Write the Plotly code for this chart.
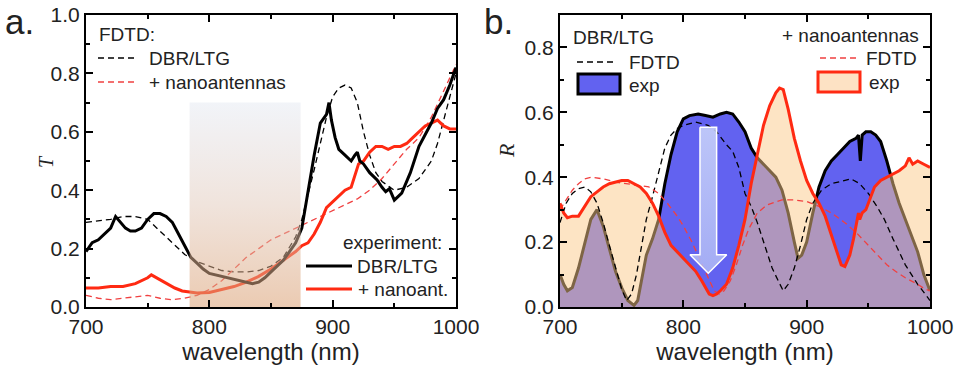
import plotly.graph_objects as go

# ---------------- data: panel a (transmission) ----------------
wl_Ta_exp_dbr = [700,705,710,715,720,724,728,732,736,740,745,750,755,760,765,770,775,780,785,790,795,800,805,810,815,820,825,830,835,840,845,850,855,860,865,870,875,880,885,890,893,895,897,899,902,905,910,915,918,920,922,925,930,936,940,943,946,950,956,963,970,975,980,985,990,995,1000]
Ta_exp_dbr = [0.19,0.22,0.23,0.25,0.27,0.31,0.29,0.27,0.26,0.26,0.27,0.30,0.32,0.32,0.31,0.29,0.25,0.21,0.17,0.15,0.13,0.115,0.11,0.105,0.10,0.095,0.09,0.085,0.08,0.085,0.10,0.12,0.14,0.16,0.19,0.22,0.27,0.40,0.52,0.63,0.65,0.66,0.70,0.64,0.58,0.54,0.52,0.50,0.52,0.53,0.50,0.49,0.46,0.435,0.41,0.395,0.405,0.366,0.39,0.46,0.55,0.59,0.63,0.68,0.71,0.76,0.82]

wl_Ta_exp_nano = [700,710,720,730,740,745,750,753,757,762,767,772,778,785,790,800,810,820,830,840,850,860,870,875,880,885,890,895,900,905,910,915,918,921,925,930,935,940,945,950,955,960,965,970,975,980,985,990,995,1000]
Ta_exp_nano = [0.065,0.065,0.07,0.07,0.08,0.09,0.10,0.11,0.10,0.09,0.075,0.065,0.055,0.05,0.048,0.05,0.06,0.07,0.085,0.105,0.13,0.16,0.19,0.21,0.22,0.25,0.29,0.34,0.36,0.38,0.40,0.41,0.45,0.49,0.50,0.53,0.55,0.55,0.54,0.55,0.55,0.56,0.58,0.60,0.62,0.63,0.64,0.62,0.61,0.61]

wl_Ta_fdtd_dbr = [700,710,720,730,740,750,760,770,780,790,800,810,820,830,840,850,860,870,875,880,885,890,895,900,905,910,915,920,925,930,935,940,950,960,970,980,985,990,995,1000]
Ta_fdtd_dbr = [0.29,0.295,0.30,0.31,0.31,0.30,0.26,0.22,0.18,0.155,0.14,0.125,0.12,0.12,0.125,0.14,0.17,0.24,0.30,0.38,0.47,0.56,0.65,0.72,0.75,0.76,0.75,0.70,0.60,0.52,0.46,0.43,0.40,0.41,0.44,0.50,0.56,0.64,0.72,0.80]

wl_Ta_fdtd_nano = [700,710,720,730,740,750,760,770,780,790,800,810,820,830,840,850,860,870,880,890,900,910,920,930,940,950,960,970,980,990,1000]
Ta_fdtd_nano = [0.04,0.03,0.025,0.03,0.035,0.04,0.03,0.025,0.03,0.04,0.06,0.09,0.13,0.17,0.20,0.23,0.25,0.27,0.29,0.31,0.33,0.35,0.37,0.40,0.44,0.49,0.54,0.58,0.65,0.74,0.83]

band_wl = [784, 874]
band_top = 0.70

# ---------------- data: panel b (reflection) ----------------
wl_Rb_exp_dbr = [700,703,706,710,715,720,725,730,735,740,745,750,755,760,763,766,770,775,780,785,790,795,800,805,812,818,824,830,835,840,845,850,855,860,865,870,875,880,885,890,893,896,900,905,910,915,920,925,930,935,940,942,943.5,945,948,952,956,960,965,970,975,980,985,990,995,1000]
Rb_exp_dbr = [0.10,0.07,0.05,0.06,0.12,0.20,0.27,0.30,0.25,0.18,0.11,0.06,0.02,0.005,0.02,0.08,0.16,0.21,0.27,0.38,0.47,0.54,0.58,0.59,0.595,0.59,0.585,0.595,0.60,0.595,0.57,0.54,0.49,0.46,0.44,0.42,0.40,0.36,0.29,0.20,0.15,0.16,0.20,0.29,0.37,0.42,0.45,0.47,0.49,0.51,0.52,0.53,0.45,0.53,0.54,0.54,0.53,0.51,0.45,0.38,0.32,0.27,0.22,0.17,0.10,0.05]

wl_Rb_exp_nano = [700,703,706,710,715,720,725,730,735,740,745,750,755,760,765,770,775,780,785,790,795,800,805,810,815,818,821,824,827,830,835,840,845,850,855,860,865,870,875,878,881,885,890,895,900,905,910,915,920,925,928,931,935,938,940,942,943,945,948,951,955,960,965,970,975,980,983,986,990,995,1000]
Rb_exp_nano = [0.32,0.29,0.275,0.28,0.28,0.31,0.34,0.355,0.37,0.38,0.385,0.39,0.39,0.38,0.37,0.35,0.32,0.28,0.23,0.19,0.17,0.15,0.13,0.11,0.08,0.06,0.04,0.035,0.04,0.05,0.07,0.12,0.19,0.27,0.38,0.47,0.56,0.62,0.66,0.675,0.67,0.61,0.52,0.45,0.39,0.35,0.32,0.28,0.22,0.16,0.13,0.125,0.16,0.21,0.25,0.29,0.27,0.29,0.30,0.33,0.37,0.39,0.40,0.41,0.42,0.435,0.46,0.44,0.45,0.44,0.43]

wl_Rb_fdtd_dbr = [700,705,710,715,720,725,730,735,740,745,750,754,758,762,766,770,775,780,785,790,795,800,810,815,820,827,835,840,845,850,855,860,866,872,877,881,885,890,895,900,905,912,920,930,936,943,950,957,963,970,975,980,985,990,996,1000]
Rb_fdtd_dbr = [0.26,0.32,0.35,0.365,0.37,0.355,0.32,0.26,0.19,0.12,0.055,0.02,0.04,0.10,0.19,0.27,0.34,0.42,0.49,0.53,0.55,0.56,0.57,0.565,0.56,0.54,0.50,0.48,0.43,0.35,0.31,0.26,0.19,0.12,0.08,0.05,0.07,0.12,0.19,0.27,0.32,0.36,0.38,0.39,0.395,0.38,0.35,0.31,0.27,0.21,0.17,0.13,0.10,0.07,0.04,0.02]

wl_Rb_fdtd_nano = [700,705,710,715,720,725,735,745,755,765,772,780,787,795,800,807,814,820,825,829,833,838,843,848,853,860,868,880,890,900,910,920,931,940,950,958,965,972,980,990,996,1000]
Rb_fdtd_nano = [0.30,0.33,0.36,0.38,0.395,0.40,0.395,0.385,0.38,0.375,0.37,0.35,0.32,0.28,0.25,0.20,0.14,0.09,0.05,0.04,0.05,0.08,0.13,0.19,0.24,0.29,0.315,0.33,0.33,0.325,0.31,0.29,0.26,0.23,0.19,0.16,0.13,0.11,0.09,0.07,0.055,0.05]

# arrow (decoration) in panel b data coordinates
arrow_x = [813.5, 827, 827, 835.2, 820.2, 805.4, 813.5, 813.5]
arrow_y = [0.554, 0.554, 0.161, 0.161, 0.104, 0.161, 0.161, 0.554]

FONT = "Liberation Sans, Arial, sans-serif"
RED = "#ff2a12"
BLUE = "rgb(98,98,240)"
PEACH = "rgba(251,201,137,0.5)"

fig = go.Figure()

# ---- panel a ----
fig.add_trace(go.Scatter(x=wl_Ta_fdtd_dbr, y=Ta_fdtd_dbr, mode="lines", line=dict(color="black", width=1.3, dash="6px,4px"), xaxis="x", yaxis="y"))
fig.add_trace(go.Scatter(x=wl_Ta_fdtd_nano, y=Ta_fdtd_nano, mode="lines", line=dict(color="#f04040", width=1.3, dash="6px,4px"), xaxis="x", yaxis="y"))
fig.add_trace(go.Scatter(x=wl_Ta_exp_nano, y=Ta_exp_nano, mode="lines", line=dict(color=RED, width=3), xaxis="x", yaxis="y"))
fig.add_trace(go.Scatter(x=wl_Ta_exp_dbr, y=Ta_exp_dbr, mode="lines", line=dict(color="black", width=3), xaxis="x", yaxis="y"))
fig.add_trace(go.Scatter(
    x=[band_wl[0], band_wl[1], band_wl[1], band_wl[0], band_wl[0]],
    y=[0, 0, band_top, band_top, 0],
    mode="none", fill="toself",
    fillgradient=dict(type="vertical", start=0, stop=band_top,
                      colorscale=[[0, "rgba(219,160,115,0.55)"], [0.5, "rgba(225,200,185,0.5)"], [1, "rgba(225,230,240,0.45)"]]),
    xaxis="x", yaxis="y"))

# ---- panel b ----
fig.add_trace(go.Scatter(x=wl_Rb_exp_dbr, y=Rb_exp_dbr, mode="lines", fill="tozeroy", fillcolor=BLUE,
                         line=dict(color="black", width=3), xaxis="x2", yaxis="y2"))
fig.add_trace(go.Scatter(x=wl_Rb_exp_nano, y=Rb_exp_nano, mode="none", fill="tozeroy", fillcolor=PEACH,
                         xaxis="x2", yaxis="y2"))
fig.add_trace(go.Scatter(x=wl_Rb_fdtd_dbr, y=Rb_fdtd_dbr, mode="lines", line=dict(color="black", width=1.3, dash="6px,4px"), xaxis="x2", yaxis="y2"))
fig.add_trace(go.Scatter(x=wl_Rb_fdtd_nano, y=Rb_fdtd_nano, mode="lines", line=dict(color="#f04040", width=1.3, dash="6px,4px"), xaxis="x2", yaxis="y2"))
fig.add_trace(go.Scatter(x=wl_Rb_exp_nano, y=Rb_exp_nano, mode="lines", line=dict(color=RED, width=3), xaxis="x2", yaxis="y2"))
fig.add_trace(go.Scatter(x=arrow_x, y=arrow_y, mode="lines", fill="toself", line=dict(color="white", width=1.5),
                         fillgradient=dict(type="vertical", start=0.104, stop=0.554,
                                           colorscale=[[0, "rgba(175,185,245,0.85)"], [1, "rgba(205,215,250,0.85)"]]),
                         xaxis="x2", yaxis="y2"))

W, H = 955, 373
def px(x): return x / W
def py(y): return 1 - y / H

ydom = [py(307), py(15)]
axis_common = dict(showline=True, linecolor="black", linewidth=2, mirror="ticks", ticks="inside",
                   ticklen=7, tickwidth=1.5, tickcolor="black", showgrid=False, zeroline=False,
                   automargin=False, ticklabeloverflow="allow",
                   tickfont=dict(family=FONT, size=21, color="#222"))
xaxis_common = dict(axis_common, range=[700, 1000], dtick=100, tick0=700,
                    minor=dict(dtick=50, ticks="inside", ticklen=4, tickwidth=1.5, tickcolor="black"),
                    title=dict(text="wavelength (nm)", font=dict(family=FONT, size=24, color="#222"), standoff=2))

layout = dict(
    width=W, height=H, margin=dict(l=0, r=0, t=0, b=0),
    paper_bgcolor="white", plot_bgcolor="white", showlegend=False, hovermode=False,
    xaxis=dict(xaxis_common, domain=[px(86), px(456)], anchor="y"),
    yaxis=dict(axis_common, domain=ydom, range=[0, 1.0], dtick=0.2, tickformat=".1f", anchor="x",
               minor=dict(dtick=0.1, ticks="inside", ticklen=4, tickwidth=1.5, tickcolor="black")),
    xaxis2=dict(xaxis_common, domain=[px(560), px(930)], anchor="y2"),
    yaxis2=dict(axis_common, domain=ydom, range=[0, 0.9], dtick=0.2, tickformat=".1f", anchor="x2",
                minor=dict(dtick=0.1, ticks="inside", ticklen=4, tickwidth=1.5, tickcolor="black")),
)
fig.update_layout(**layout)

ann = []
def text(x, y, s, size=19, xanchor="left", family=FONT, angle=0, yanchor="middle"):
    ann.append(dict(x=px(x), y=py(y), xref="paper", yref="paper", text=s, showarrow=False, textangle=angle,
                    xanchor=xanchor, yanchor=yanchor, font=dict(family=family, size=size, color="#222")))

shapes = []
def seg(x0, x1, y, color, width, dash=None):
    shapes.append(dict(type="line", xref="paper", yref="paper", x0=px(x0), x1=px(x1), y0=py(y), y1=py(y),
                       line=dict(color=color, width=width, dash=dash)))
def box(x0, x1, y0, y1, fill, edge):
    shapes.append(dict(type="rect", xref="paper", yref="paper", x0=px(x0), x1=px(x1), y0=py(y1), y1=py(y0),
                       fillcolor=fill, line=dict(color=edge, width=3)))

# panel labels
text(3, 0, "a.", size=35, yanchor="top")
text(482, 0, "b.", size=35, yanchor="top")

# y-axis titles
text(46, 162, "<i>T</i>", size=20, xanchor="center", family="Liberation Serif, serif", angle=-90)
text(506, 151, "<i>R</i>", size=22, xanchor="center", family="Liberation Serif, serif", angle=-90)

# panel a legends
text(97, 34, "FDTD:")
seg(98, 136, 58, "black", 1.3, "6px,4px"); text(147, 58, "DBR/LTG")
seg(98, 136, 82, "#f04040", 1.3, "6px,4px"); text(147, 82, "+ nanoantennas")
text(444, 242, "experiment:", xanchor="right")
seg(306, 352, 266, "black", 3); text(355, 266, "DBR/LTG")
seg(306, 352, 289, RED, 3); text(356, 289, "+ nanoant.")

# panel b legends
text(571, 38, "DBR/LTG")
seg(577, 617, 62, "black", 1.3, "6px,4px"); text(627, 62, "FDTD")
box(578, 620, 74, 94, BLUE, "black"); text(627, 85, "exp")
text(921, 36, "+ nanoantennas", xanchor="right")
seg(820, 858, 58, "#f04040", 1.3, "6px,4px"); text(919, 58, "FDTD", xanchor="right")
box(818, 860, 72, 92, "rgb(253,226,196)", RED); text(867, 82, "exp")

fig.update_layout(annotations=ann, shapes=shapes)
fig.write_html("out.html", config={"displayModeBar": False},
               post_script="document.body.style.margin='0';")
